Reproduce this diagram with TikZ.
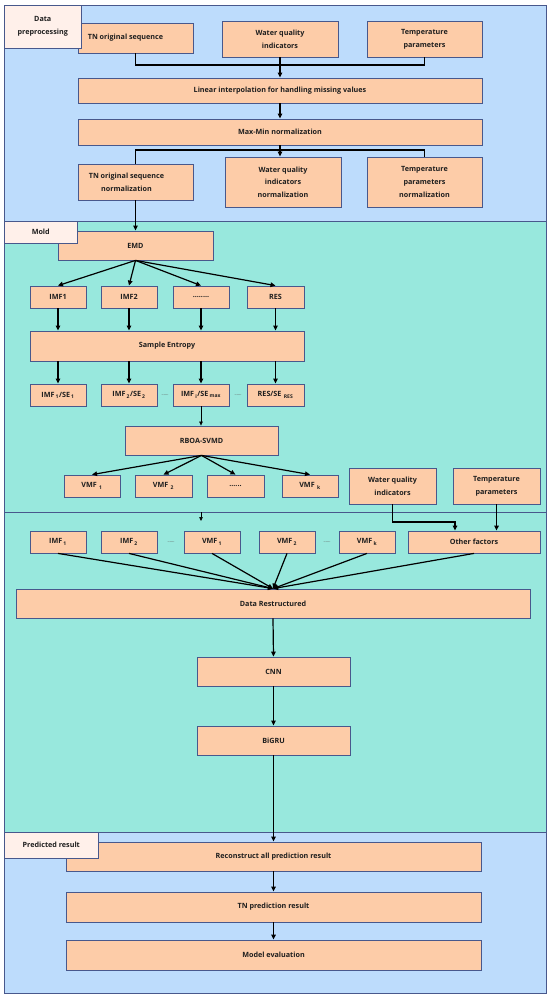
\documentclass[tikz,border=0pt]{standalone}
\usepackage{fontspec}
\setmainfont{Open Sans}
\usetikzlibrary{arrows.meta}
\definecolor{panelblue}{RGB}{189,220,252}
\definecolor{panelteal}{RGB}{152,232,221}
\definecolor{boxfill}{RGB}{253,204,168}
\definecolor{boxline}{RGB}{72,88,140}
\definecolor{labfill}{RGB}{255,240,234}
\definecolor{txt}{RGB}{30,30,30}
\tikzset{
  box/.style={draw=boxline, fill=boxfill, line width=0.8pt, inner sep=1pt, align=center,
    font=\bfseries\fontsize{7.2}{12.6}\selectfont, text=txt},
  panel/.style={draw=boxline, line width=0.8pt},
  lab/.style={draw=boxline, fill=labfill, line width=0.6pt, inner sep=1pt, align=center,
    font=\bfseries\fontsize{7.2}{12.6}\selectfont, text=txt},
  arr/.style={-{Triangle[width=4.5pt,length=5pt]}, line width=1.2pt},
  ln/.style={line width=1.2pt},
  tarr/.style={-{Triangle[width=3.5pt,length=4pt]}, line width=0.6pt},
  gap/.style={inner sep=0pt, font=\bfseries\fontsize{4}{5}\selectfont, text=txt!70},
}
\newcommand\mybox[6]{\node[box, minimum width={#4-#2}, minimum height={#5-#3}] (#1) at ({(#2+#4)/2},{(#3+#5)/2}) {#6};}
\newcommand\mylab[6]{\node[lab, minimum width={#4-#2}, minimum height={#5-#3}] (#1) at ({(#2+#4)/2},{(#3+#5)/2}) {#6};}
\newcommand\sbs[1]{\,\textsubscript{#1}}
\begin{document}
\begin{tikzpicture}[x=1pt,y=-1pt]
\useasboundingbox (0,0) rectangle (550,999);
\fill[white] (0,0) rectangle (550,999);
% panels
\draw[panel, fill=panelblue] (4.5,5) rectangle (546.5,221);
\draw[panel, fill=panelteal] (4.5,221) rectangle (546.5,512);
\draw[panel, fill=panelteal] (4.5,512) rectangle (546.5,832.5);
\draw[panel, fill=panelblue] (4.5,832.5) rectangle (546.5,993);

% data preprocessing
\mybox{tn}{78}{23}{193}{53}{TN original sequence\hspace*{20pt}}
\mybox{wq}{222}{21}{338}{57}{Water quality\\indicators}
\mybox{tp}{367}{21}{482}{57}{Temperature\\parameters}
\mybox{lin}{78}{78}{482}{103}{Linear interpolation for handling missing values}
\mybox{mm}{78}{119}{482}{145}{Max-Min normalization}
\mybox{tnn}{78}{164}{193}{200}{TN original sequence\hspace*{18pt}\\normalization\hspace*{18pt}}
\mybox{wqn}{225}{157}{341}{207}{Water quality\\indicators\\normalization}
\mybox{tpn}{367}{157}{482}{207}{Temperature\\parameters\\normalization}

\coordinate (j1) at (280,65);
\coordinate (j2) at (280,150);
\draw[ln] (tn.south) |- (j1) -| (tp.south);
\draw[arr] (wq.south) -- (wq.south |- lin.north);
\draw[arr] (lin.south) -- (mm.north);
\draw[ln] (tnn.north) |- (j2) -| (tpn.north);
\draw[arr] (mm.south) -- (mm.south |- wqn.north);

% mold
\mybox{emd}{58}{231}{213}{260}{EMD}
\draw[arr] (tnn.south) -- (tnn.south |- emd.north);
\mybox{imf1}{30}{286}{86}{308}{IMF1}
\mybox{imf2}{101}{286}{157}{308}{IMF2}
\mybox{imfd}{173}{286}{229}{308}{........}
\mybox{res}{247}{286}{304}{308}{RES}
\mybox{se}{30}{331}{304}{361}{Sample Entropy}
\mybox{s1}{30}{384}{86}{406}{IMF\sbs{1}/SE\sbs{1}}
\mybox{s2}{101}{384}{157}{406}{IMF\sbs{2}/SE\sbs{2}}
\mybox{s3}{173}{384}{229}{406}{IMF\sbs{i}/SE\sbs{max}}
\mybox{s4}{247}{384}{304}{406}{RES/SE\,\sbs{RES}}
\node[gap] (g1) at (165,395) {......};
\node[gap] (g2) at (238,395) {......};
\foreach \b in {imf1,imf2,imfd,res}{
  \draw[arr] (emd.south) -- (\b.north);
  \draw[arr] (\b.south) -- (\b.south |- se.north);
}
\foreach \b in {s1,s2,s3,s4}{
  \draw[arr] (se.south -| \b.north) -- (\b.north);
}
\mybox{rb}{125}{426}{278}{455}{RBOA-SVMD}
\draw[tarr] (s3.south) -- (s3.south |- rb.north);
\mybox{v1}{64}{475}{120}{497}{VMF\,\sbs{1}}
\mybox{v2}{135}{475}{192}{497}{VMF\,\sbs{2}}
\mybox{vd}{207}{475}{264}{497}{......}
\mybox{vk}{282}{475}{338}{497}{VMF\,\sbs{k}}
\foreach \b in {v1,v2,vd,vk}{
  \draw[arr] (rb.south) -- (\b.north);
}
\mybox{wq2}{349}{468}{436}{504}{Water quality\\indicators}
\mybox{tp2}{453}{468}{540}{504}{Temperature\\parameters}

% lower part
\coordinate (k1) at (201,512);
\coordinate (k2) at (201,521);
\draw[tarr] (k1) -- (k2);
\mybox{r1}{30}{531}{86}{553}{IMF\sbs{1}}
\mybox{r2}{101}{531}{157}{553}{IMF\sbs{2}}
\mybox{r3}{184}{531}{240}{553}{VMF\sbs{1}}
\mybox{r4}{259}{531}{315}{553}{VMF\sbs{2}}
\mybox{r5}{339}{531}{395}{553}{VMF\sbs{k}}
\mybox{of}{408}{531}{540}{553}{Other factors}
\node[gap] (g3) at (171,542) {......};
\node[gap] (g4) at (327,542) {......};
\coordinate (j3) at (455,522);
\draw[arr] (wq2.south) |- (j3) -- (j3 |- of.north);
\draw[arr] (tp2.south) -- (tp2.south |- of.north);
\mybox{dr}{16}{589}{530}{618}{Data Restructured}
\foreach \b in {r1,r2,r3,r4,r5,of}{
  \draw[arr] (\b.south) -- (dr.north);
}
\mybox{cnn}{197}{657}{350}{686}{CNN}
\mybox{bigru}{197}{726}{350}{755}{BiGRU}
\mybox{rec}{66}{842}{481}{871}{Reconstruct all prediction result}
\mybox{tnp}{66}{892}{481}{922}{TN prediction result}
\mybox{me}{66}{940}{481}{970}{Model evaluation}
\draw[arr] (dr.south) -- (cnn.north);
\draw[arr] (cnn.south) -- (bigru.north);
\draw[arr] (bigru.south) -- (rec.north);
\draw[arr] (rec.south) -- (tnp.north);
\draw[arr] (tnp.south) -- (me.north);

% section labels
\mylab{l1}{4.5}{5}{81}{48}{Data\\preprocessing}
\mylab{l2}{4.5}{221}{77}{243}{Mold}
\mylab{l3}{4.5}{832.5}{98}{858}{Predicted result}
\end{tikzpicture}
\end{document}
